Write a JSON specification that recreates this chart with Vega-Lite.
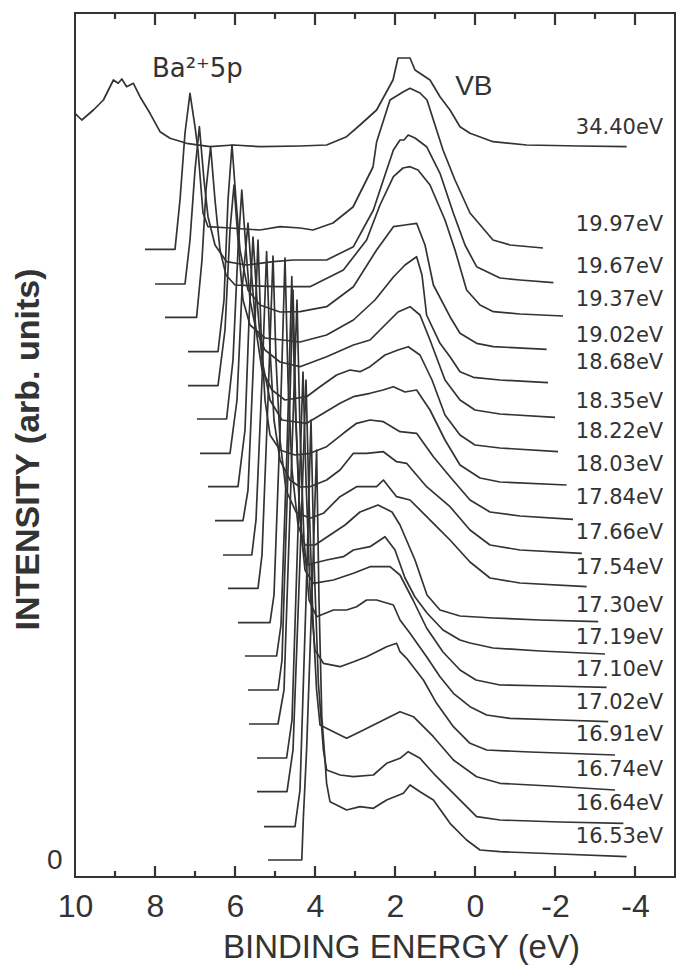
{
"$schema": "https://vega.github.io/schema/vega-lite/v6.json",
"width": 600, "height": 864,
"autosize": "none",
"padding": {"left": 75, "top": 13, "right": 1, "bottom": 88},
"background": "white",
"config": {"view": {"stroke": "#333", "strokeWidth": 2}},
"datasets": {
"tk": [
{"k":"bM8","E":8,"I":-17},{"k":"bM8","E":8,"I":-6},{"k":"bM6","E":6,"I":-17},{"k":"bM6","E":6,"I":-6},{"k":"bM4","E":4,"I":-17},{"k":"bM4","E":4,"I":-6},{"k":"bM2","E":2,"I":-17},{"k":"bM2","E":2,"I":-6},{"k":"bM0","E":0,"I":-17},{"k":"bM0","E":0,"I":-6},{"k":"bMn2","E":-2,"I":-17},{"k":"bMn2","E":-2,"I":-6},{"k":"bMn4","E":-4,"I":-17},{"k":"bMn4","E":-4,"I":-6},
{"k":"bm9","E":9,"I":-17},{"k":"bm9","E":9,"I":-11},{"k":"bm7","E":7,"I":-17},{"k":"bm7","E":7,"I":-11},{"k":"bm5","E":5,"I":-17},{"k":"bm5","E":5,"I":-11},{"k":"bm3","E":3,"I":-17},{"k":"bm3","E":3,"I":-11},{"k":"bm1","E":1,"I":-17},{"k":"bm1","E":1,"I":-11},{"k":"bmn1","E":-1,"I":-17},{"k":"bmn1","E":-1,"I":-11},{"k":"bmn3","E":-3,"I":-17},{"k":"bmn3","E":-3,"I":-11},
{"k":"tM8","E":8,"I":847},{"k":"tM8","E":8,"I":835},{"k":"tM6","E":6,"I":847},{"k":"tM6","E":6,"I":835},{"k":"tM4","E":4,"I":847},{"k":"tM4","E":4,"I":835},{"k":"tM2","E":2,"I":847},{"k":"tM2","E":2,"I":835},{"k":"tM0","E":0,"I":847},{"k":"tM0","E":0,"I":835},{"k":"tMn2","E":-2,"I":847},{"k":"tMn2","E":-2,"I":835},{"k":"tMn4","E":-4,"I":847},{"k":"tMn4","E":-4,"I":835},
{"k":"tm9","E":9,"I":847},{"k":"tm9","E":9,"I":841},{"k":"tm7","E":7,"I":847},{"k":"tm7","E":7,"I":841},{"k":"tm5","E":5,"I":847},{"k":"tm5","E":5,"I":841},{"k":"tm3","E":3,"I":847},{"k":"tm3","E":3,"I":841},{"k":"tm1","E":1,"I":847},{"k":"tm1","E":1,"I":841},{"k":"tmn1","E":-1,"I":847},{"k":"tmn1","E":-1,"I":841},{"k":"tmn3","E":-3,"I":847},{"k":"tmn3","E":-3,"I":841}
],
"curves": [
{"s":"34.40","E":10,"I":746.7},{"s":"34.40","E":9.83,"I":740},{"s":"34.40","E":9.54,"I":750},{"s":"34.40","E":9.29,"I":760},{"s":"34.40","E":9.04,"I":780},{"s":"34.40","E":8.92,"I":776.7},{"s":"34.40","E":8.83,"I":781},{"s":"34.40","E":8.71,"I":773.3},{"s":"34.40","E":8.54,"I":776.7},{"s":"34.40","E":8.375,"I":763.3},{"s":"34.40","E":8.125,"I":746.7},{"s":"34.40","E":7.875,"I":728.3},{"s":"34.40","E":7.625,"I":721.7},{"s":"34.40","E":7.21,"I":716.7},{"s":"34.40","E":6.625,"I":713.3},{"s":"34.40","E":6.04,"I":715},{"s":"34.40","E":5.375,"I":713.3},{"s":"34.40","E":4.375,"I":714},{"s":"34.40","E":3.71,"I":715},{"s":"34.40","E":3.21,"I":723.3},{"s":"34.40","E":2.875,"I":735},{"s":"34.40","E":2.46,"I":750},{"s":"34.40","E":2.05,"I":780},{"s":"34.40","E":1.925,"I":802},{"s":"34.40","E":1.625,"I":802},{"s":"34.40","E":1.5,"I":790},{"s":"34.40","E":1.125,"I":780},{"s":"34.40","E":0.875,"I":763.3},{"s":"34.40","E":0.625,"I":750},{"s":"34.40","E":0.375,"I":733.3},{"s":"34.40","E":0.125,"I":726.7},{"s":"34.40","E":-0.45,"I":718.3},{"s":"34.40","E":-1.29,"I":715},{"s":"34.40","E":-2.625,"I":714},{"s":"34.40","E":-3.79,"I":713.3},
{"s":"19.97","E":8.25,"I":610.7},{"s":"19.97","E":7.5,"I":610.7},{"s":"19.97","E":7.375,"I":660},{"s":"19.97","E":7.25,"I":727},{"s":"19.97","E":7.125,"I":766.7},{"s":"19.97","E":7.0,"I":733.3},{"s":"19.97","E":6.925,"I":710},{"s":"19.97","E":6.8,"I":647},{"s":"19.97","E":6.675,"I":633.3},{"s":"19.97","E":6.125,"I":632},{"s":"19.97","E":5.375,"I":630},{"s":"19.97","E":4.875,"I":633.3},{"s":"19.97","E":4.375,"I":632},{"s":"19.97","E":4.05,"I":630},{"s":"19.97","E":3.55,"I":637},{"s":"19.97","E":3.05,"I":653},{"s":"19.97","E":2.55,"I":693},{"s":"19.97","E":2.46,"I":718},{"s":"19.97","E":2.125,"I":760},{"s":"19.97","E":1.8,"I":768},{"s":"19.97","E":1.625,"I":771.7},{"s":"19.97","E":1.375,"I":767},{"s":"19.97","E":1.2,"I":760},{"s":"19.97","E":0.8,"I":710},{"s":"19.97","E":0.5,"I":680},{"s":"19.97","E":0.125,"I":647},{"s":"19.97","E":-0.45,"I":620},{"s":"19.97","E":-0.875,"I":615},{"s":"19.97","E":-1.7,"I":612},
{"s":"19.67","E":8.0,"I":576},{"s":"19.67","E":7.25,"I":576},{"s":"19.67","E":7.125,"I":620},{"s":"19.67","E":7.0,"I":690},{"s":"19.67","E":6.89,"I":733.3},{"s":"19.67","E":6.775,"I":680},{"s":"19.67","E":6.675,"I":643.3},{"s":"19.67","E":6.5,"I":615},{"s":"19.67","E":6.21,"I":598.3},{"s":"19.67","E":5.71,"I":595},{"s":"19.67","E":5.04,"I":598.3},{"s":"19.67","E":4.54,"I":600},{"s":"19.67","E":3.71,"I":600},{"s":"19.67","E":3.04,"I":613.3},{"s":"19.67","E":2.54,"I":650},{"s":"19.67","E":2.25,"I":685},{"s":"19.67","E":2.04,"I":710},{"s":"19.67","E":1.875,"I":720},{"s":"19.67","E":1.775,"I":720},{"s":"19.67","E":1.67,"I":725},{"s":"19.67","E":1.5,"I":722},{"s":"19.67","E":1.21,"I":713.3},{"s":"19.67","E":0.875,"I":686.7},{"s":"19.67","E":0.54,"I":646.7},{"s":"19.67","E":0.25,"I":615},{"s":"19.67","E":-0.04,"I":593.3},{"s":"19.67","E":-0.625,"I":582},{"s":"19.67","E":-1.125,"I":580},{"s":"19.67","E":-1.96,"I":577.3},
{"s":"19.37","E":7.75,"I":542.7},{"s":"19.37","E":6.96,"I":542.7},{"s":"19.37","E":6.825,"I":600},{"s":"19.37","E":6.725,"I":670},{"s":"19.37","E":6.61,"I":713.3},{"s":"19.37","E":6.5,"I":660},{"s":"19.37","E":6.375,"I":610},{"s":"19.37","E":6.225,"I":585},{"s":"19.37","E":6.0,"I":575},{"s":"19.37","E":4.96,"I":573.3},{"s":"19.37","E":4.125,"I":573.3},{"s":"19.37","E":3.29,"I":590},{"s":"19.37","E":2.71,"I":620},{"s":"19.37","E":2.375,"I":655},{"s":"19.37","E":2.04,"I":683.3},{"s":"19.37","E":1.8,"I":692},{"s":"19.37","E":1.625,"I":693.3},{"s":"19.37","E":1.425,"I":690},{"s":"19.37","E":1.125,"I":675},{"s":"19.37","E":0.75,"I":640},{"s":"19.37","E":0.5,"I":610},{"s":"19.37","E":0.21,"I":570},{"s":"19.37","E":-0.125,"I":555},{"s":"19.37","E":-0.46,"I":548.3},{"s":"19.37","E":-1.125,"I":546},{"s":"19.37","E":-2.2,"I":544},
{"s":"19.02","E":7.175,"I":508.3},{"s":"19.02","E":6.425,"I":508.3},{"s":"19.02","E":6.275,"I":560},{"s":"19.02","E":6.175,"I":660},{"s":"19.02","E":6.075,"I":715},{"s":"19.02","E":5.975,"I":660},{"s":"19.02","E":5.875,"I":610},{"s":"19.02","E":5.675,"I":570},{"s":"19.02","E":5.375,"I":555},{"s":"19.02","E":4.875,"I":548},{"s":"19.02","E":4.375,"I":548.3},{"s":"19.02","E":3.71,"I":553.3},{"s":"19.02","E":3.04,"I":573.3},{"s":"19.02","E":2.46,"I":610},{"s":"19.02","E":2.04,"I":633.3},{"s":"19.02","E":1.75,"I":635},{"s":"19.02","E":1.46,"I":636.7},{"s":"19.02","E":1.25,"I":615},{"s":"19.02","E":1.04,"I":575},{"s":"19.02","E":0.625,"I":543.3},{"s":"19.02","E":0.375,"I":526.7},{"s":"19.02","E":-0.04,"I":516.7},{"s":"19.02","E":-0.46,"I":513.3},{"s":"19.02","E":-1.79,"I":510.7},
{"s":"18.68","E":7.175,"I":474.3},{"s":"18.68","E":6.425,"I":474.3},{"s":"18.68","E":6.25,"I":530},{"s":"18.68","E":6.125,"I":630},{"s":"18.68","E":6.025,"I":675},{"s":"18.68","E":5.925,"I":620},{"s":"18.68","E":5.8,"I":560},{"s":"18.68","E":5.625,"I":535},{"s":"18.68","E":5.25,"I":522},{"s":"18.68","E":4.375,"I":518},{"s":"18.68","E":3.71,"I":525},{"s":"18.68","E":3.04,"I":540},{"s":"18.68","E":2.5,"I":560},{"s":"18.68","E":2.04,"I":583},{"s":"18.68","E":1.75,"I":595},{"s":"18.68","E":1.46,"I":603.3},{"s":"18.68","E":1.325,"I":585},{"s":"18.68","E":1.21,"I":545},{"s":"18.68","E":0.875,"I":516.7},{"s":"18.68","E":0.625,"I":503.3},{"s":"18.68","E":0.375,"I":488.3},{"s":"18.68","E":0.04,"I":482.7},{"s":"18.68","E":-0.625,"I":480},{"s":"18.68","E":-1.825,"I":477.3},
{"s":"18.35","E":6.95,"I":441},{"s":"18.35","E":6.21,"I":441},{"s":"18.35","E":6.05,"I":500},{"s":"18.35","E":5.925,"I":610},{"s":"18.35","E":5.83,"I":670},{"s":"18.35","E":5.725,"I":610},{"s":"18.35","E":5.625,"I":560},{"s":"18.35","E":5.475,"I":530},{"s":"18.35","E":5.25,"I":510},{"s":"18.35","E":4.875,"I":498},{"s":"18.35","E":4.375,"I":493.3},{"s":"18.35","E":3.71,"I":503.3},{"s":"18.35","E":3.04,"I":515},{"s":"18.35","E":2.625,"I":520},{"s":"18.35","E":2.25,"I":535},{"s":"18.35","E":1.925,"I":548},{"s":"18.35","E":1.625,"I":553.3},{"s":"18.35","E":1.375,"I":545},{"s":"18.35","E":1.125,"I":520},{"s":"18.35","E":0.75,"I":480},{"s":"18.35","E":0.375,"I":460},{"s":"18.35","E":0,"I":450},{"s":"18.35","E":-0.625,"I":446},{"s":"18.35","E":-2.0,"I":442.7},
{"s":"18.22","E":6.875,"I":406.7},{"s":"18.22","E":6.125,"I":406.7},{"s":"18.22","E":5.95,"I":460},{"s":"18.22","E":5.825,"I":570},{"s":"18.22","E":5.675,"I":637},{"s":"18.22","E":5.575,"I":580},{"s":"18.22","E":5.475,"I":530},{"s":"18.22","E":5.325,"I":490},{"s":"18.22","E":5.075,"I":470},{"s":"18.22","E":4.75,"I":460},{"s":"18.22","E":4.21,"I":463.3},{"s":"18.22","E":3.875,"I":473.3},{"s":"18.22","E":3.46,"I":485},{"s":"18.22","E":3.125,"I":490},{"s":"18.22","E":2.875,"I":488.3},{"s":"18.22","E":2.625,"I":493.3},{"s":"18.22","E":2.25,"I":505},{"s":"18.22","E":1.925,"I":510},{"s":"18.22","E":1.67,"I":513.3},{"s":"18.22","E":1.375,"I":505},{"s":"18.22","E":1.075,"I":480},{"s":"18.22","E":0.75,"I":445},{"s":"18.22","E":0.375,"I":425},{"s":"18.22","E":0,"I":415},{"s":"18.22","E":-0.625,"I":412},{"s":"18.22","E":-2.075,"I":408.3},
{"s":"18.03","E":6.675,"I":373.3},{"s":"18.03","E":5.925,"I":373.3},{"s":"18.03","E":5.75,"I":430},{"s":"18.03","E":5.65,"I":540},{"s":"18.03","E":5.55,"I":623},{"s":"18.03","E":5.45,"I":560},{"s":"18.03","E":5.325,"I":500},{"s":"18.03","E":5.125,"I":460},{"s":"18.03","E":4.825,"I":440},{"s":"18.03","E":4.21,"I":436.7},{"s":"18.03","E":3.79,"I":446.7},{"s":"18.03","E":3.375,"I":456.7},{"s":"18.03","E":3.04,"I":463.3},{"s":"18.03","E":2.625,"I":466.7},{"s":"18.03","E":2.3,"I":470},{"s":"18.03","E":2.04,"I":473.3},{"s":"18.03","E":1.75,"I":468},{"s":"18.03","E":1.46,"I":470},{"s":"18.03","E":1.125,"I":450},{"s":"18.03","E":0.75,"I":420},{"s":"18.03","E":0.375,"I":395},{"s":"18.03","E":-0.125,"I":382},{"s":"18.03","E":-0.625,"I":378},{"s":"18.03","E":-2.29,"I":375},
{"s":"17.84","E":6.5,"I":339.3},{"s":"17.84","E":5.8,"I":339.3},{"s":"17.84","E":5.675,"I":370},{"s":"17.84","E":5.525,"I":510},{"s":"17.84","E":5.425,"I":620},{"s":"17.84","E":5.35,"I":530},{"s":"17.84","E":5.25,"I":460},{"s":"17.84","E":5.125,"I":425},{"s":"17.84","E":4.875,"I":410},{"s":"17.84","E":4.5,"I":405},{"s":"17.84","E":4.125,"I":406.7},{"s":"17.84","E":3.71,"I":413.3},{"s":"17.84","E":3.29,"I":426.7},{"s":"17.84","E":2.96,"I":436.7},{"s":"17.84","E":2.625,"I":440},{"s":"17.84","E":2.29,"I":438.3},{"s":"17.84","E":1.875,"I":428.3},{"s":"17.84","E":1.46,"I":426.7},{"s":"17.84","E":1.04,"I":403.3},{"s":"17.84","E":0.625,"I":383.3},{"s":"17.84","E":0.125,"I":360},{"s":"17.84","E":-0.375,"I":348},{"s":"17.84","E":-1.125,"I":344},{"s":"17.84","E":-2.45,"I":340.7},
{"s":"17.66","E":6.3,"I":305},{"s":"17.66","E":5.58,"I":305},{"s":"17.66","E":5.475,"I":340},{"s":"17.66","E":5.325,"I":480},{"s":"17.66","E":5.21,"I":608.3},{"s":"17.66","E":5.125,"I":510},{"s":"17.66","E":5.025,"I":440},{"s":"17.66","E":4.875,"I":400},{"s":"17.66","E":4.625,"I":380},{"s":"17.66","E":4.375,"I":373},{"s":"17.66","E":4.125,"I":373.3},{"s":"17.66","E":3.71,"I":380},{"s":"17.66","E":3.375,"I":390},{"s":"17.66","E":3.04,"I":406.7},{"s":"17.66","E":2.71,"I":406.7},{"s":"17.66","E":2.29,"I":408.3},{"s":"17.66","E":1.96,"I":398.3},{"s":"17.66","E":1.71,"I":396.7},{"s":"17.66","E":1.21,"I":373.3},{"s":"17.66","E":0.625,"I":353.3},{"s":"17.66","E":0.125,"I":330},{"s":"17.66","E":-0.375,"I":315},{"s":"17.66","E":-1.125,"I":310},{"s":"17.66","E":-2.67,"I":306.7},
{"s":"17.54","E":6.175,"I":271.7},{"s":"17.54","E":5.425,"I":271.7},{"s":"17.54","E":5.325,"I":305},{"s":"17.54","E":5.175,"I":460},{"s":"17.54","E":5.05,"I":604},{"s":"17.54","E":4.975,"I":500},{"s":"17.54","E":4.875,"I":420},{"s":"17.54","E":4.725,"I":370},{"s":"17.54","E":4.475,"I":348},{"s":"17.54","E":4.125,"I":341.7},{"s":"17.54","E":3.79,"I":346.7},{"s":"17.54","E":3.375,"I":363.3},{"s":"17.54","E":2.96,"I":373.3},{"s":"17.54","E":2.46,"I":373.3},{"s":"17.54","E":2.29,"I":380},{"s":"17.54","E":1.96,"I":363.3},{"s":"17.54","E":1.625,"I":360},{"s":"17.54","E":1.04,"I":336.7},{"s":"17.54","E":0.625,"I":320},{"s":"17.54","E":0.125,"I":298},{"s":"17.54","E":-0.375,"I":282},{"s":"17.54","E":-1.125,"I":277},{"s":"17.54","E":-2.79,"I":273.3},
{"s":"17.30","E":5.925,"I":237.3},{"s":"17.30","E":5.125,"I":237.3},{"s":"17.30","E":5.025,"I":265},{"s":"17.30","E":4.875,"I":430},{"s":"17.30","E":4.75,"I":602},{"s":"17.30","E":4.675,"I":480},{"s":"17.30","E":4.575,"I":390},{"s":"17.30","E":4.425,"I":335},{"s":"17.30","E":4.25,"I":315},{"s":"17.30","E":4.0,"I":315},{"s":"17.30","E":3.625,"I":325},{"s":"17.30","E":3.25,"I":335},{"s":"17.30","E":2.875,"I":348},{"s":"17.30","E":2.425,"I":355},{"s":"17.30","E":2.075,"I":348},{"s":"17.30","E":1.875,"I":335},{"s":"17.30","E":1.5,"I":300},{"s":"17.30","E":1.2,"I":265},{"s":"17.30","E":0.875,"I":250},{"s":"17.30","E":0.375,"I":244},{"s":"17.30","E":-0.45,"I":242},{"s":"17.30","E":-1.625,"I":240},{"s":"17.30","E":-3.08,"I":238.3},
{"s":"17.19","E":5.75,"I":204},{"s":"17.19","E":4.96,"I":204},{"s":"17.19","E":4.85,"I":235},{"s":"17.19","E":4.7,"I":410},{"s":"17.19","E":4.58,"I":583.3},{"s":"17.19","E":4.5,"I":460},{"s":"17.19","E":4.4,"I":360},{"s":"17.19","E":4.3,"I":310},{"s":"17.19","E":4.175,"I":295},{"s":"17.19","E":4.04,"I":296.7},{"s":"17.19","E":3.71,"I":300},{"s":"17.19","E":3.29,"I":303.3},{"s":"17.19","E":3.04,"I":310},{"s":"17.19","E":2.625,"I":313.3},{"s":"17.19","E":2.25,"I":323.3},{"s":"17.19","E":2.0,"I":310},{"s":"17.19","E":1.75,"I":282},{"s":"17.19","E":1.5,"I":263},{"s":"17.19","E":1.2,"I":247},{"s":"17.19","E":0.8,"I":230},{"s":"17.19","E":0.375,"I":220},{"s":"17.19","E":0.125,"I":217},{"s":"17.19","E":-0.45,"I":212},{"s":"17.19","E":-1.625,"I":209},{"s":"17.19","E":-3.25,"I":206},
{"s":"17.10","E":5.675,"I":170},{"s":"17.10","E":4.925,"I":170},{"s":"17.10","E":4.825,"I":200},{"s":"17.10","E":4.675,"I":390},{"s":"17.10","E":4.55,"I":570},{"s":"17.10","E":4.475,"I":440},{"s":"17.10","E":4.375,"I":340},{"s":"17.10","E":4.25,"I":290},{"s":"17.10","E":4.04,"I":276.7},{"s":"17.10","E":3.54,"I":280},{"s":"17.10","E":3.04,"I":286.7},{"s":"17.10","E":2.625,"I":293.3},{"s":"17.10","E":2.125,"I":293.3},{"s":"17.10","E":1.875,"I":285},{"s":"17.10","E":1.55,"I":260},{"s":"17.10","E":1.21,"I":232},{"s":"17.10","E":0.8,"I":208},{"s":"17.10","E":0.375,"I":190},{"s":"17.10","E":-0.025,"I":180},{"s":"17.10","E":-0.625,"I":175},{"s":"17.10","E":-1.875,"I":174},{"s":"17.10","E":-3.29,"I":172.7},
{"s":"17.02","E":5.65,"I":136},{"s":"17.02","E":4.925,"I":136},{"s":"17.02","E":4.775,"I":170},{"s":"17.02","E":4.6,"I":380},{"s":"17.02","E":4.45,"I":560},{"s":"17.02","E":4.375,"I":430},{"s":"17.02","E":4.275,"I":320},{"s":"17.02","E":4.15,"I":260},{"s":"17.02","E":3.96,"I":243.3},{"s":"17.02","E":3.54,"I":250},{"s":"17.02","E":3.21,"I":250},{"s":"17.02","E":2.96,"I":253.3},{"s":"17.02","E":2.71,"I":260},{"s":"17.02","E":2.46,"I":260},{"s":"17.02","E":2.04,"I":255},{"s":"17.02","E":1.875,"I":240},{"s":"17.02","E":1.625,"I":226.7},{"s":"17.02","E":1.21,"I":203.3},{"s":"17.02","E":0.875,"I":183.3},{"s":"17.02","E":0.54,"I":166.7},{"s":"17.02","E":0.125,"I":153.3},{"s":"17.02","E":-0.29,"I":145},{"s":"17.02","E":-0.875,"I":141.7},{"s":"17.02","E":-2.125,"I":140},{"s":"17.02","E":-3.33,"I":138.3},
{"s":"16.91","E":5.45,"I":102},{"s":"16.91","E":4.71,"I":102},{"s":"16.91","E":4.575,"I":140},{"s":"16.91","E":4.425,"I":330},{"s":"16.91","E":4.3,"I":488},{"s":"16.91","E":4.225,"I":380},{"s":"16.91","E":4.125,"I":270},{"s":"16.91","E":4.0,"I":210},{"s":"16.91","E":3.79,"I":196.7},{"s":"16.91","E":3.375,"I":193.3},{"s":"16.91","E":3.05,"I":198},{"s":"16.91","E":2.71,"I":203.3},{"s":"16.91","E":2.21,"I":213.3},{"s":"16.91","E":1.96,"I":216.7},{"s":"16.91","E":1.875,"I":208.3},{"s":"16.91","E":1.71,"I":201.7},{"s":"16.91","E":1.29,"I":180},{"s":"16.91","E":0.96,"I":156.7},{"s":"16.91","E":0.54,"I":133.3},{"s":"16.91","E":0.125,"I":116.7},{"s":"16.91","E":-0.29,"I":110},{"s":"16.91","E":-1.375,"I":108},{"s":"16.91","E":-3.5,"I":105},
{"s":"16.74","E":5.45,"I":68.3},{"s":"16.74","E":4.7,"I":68.3},{"s":"16.74","E":4.55,"I":110},{"s":"16.74","E":4.375,"I":300},{"s":"16.74","E":4.225,"I":480},{"s":"16.74","E":4.15,"I":360},{"s":"16.74","E":4.05,"I":240},{"s":"16.74","E":3.96,"I":170},{"s":"16.74","E":3.875,"I":135},{"s":"16.74","E":3.54,"I":128.3},{"s":"16.74","E":3.21,"I":121.7},{"s":"16.74","E":2.875,"I":128.3},{"s":"16.74","E":2.375,"I":138.3},{"s":"16.74","E":1.875,"I":148.3},{"s":"16.74","E":1.54,"I":143.3},{"s":"16.74","E":1.04,"I":123.3},{"s":"16.74","E":0.54,"I":100},{"s":"16.74","E":-0.04,"I":83.3},{"s":"16.74","E":-0.625,"I":76.7},{"s":"16.74","E":-1.875,"I":74},{"s":"16.74","E":-3.5,"I":70},
{"s":"16.64","E":5.275,"I":33.3},{"s":"16.64","E":4.5,"I":33.3},{"s":"16.64","E":4.375,"I":70},{"s":"16.64","E":4.225,"I":260},{"s":"16.64","E":4.1,"I":440},{"s":"16.64","E":4.025,"I":300},{"s":"16.64","E":3.915,"I":176.7},{"s":"16.64","E":3.79,"I":110},{"s":"16.64","E":3.71,"I":90},{"s":"16.64","E":3.375,"I":85},{"s":"16.64","E":3.04,"I":83.3},{"s":"16.64","E":2.54,"I":85},{"s":"16.64","E":2.21,"I":96.7},{"s":"16.64","E":1.875,"I":101.7},{"s":"16.64","E":1.67,"I":108.3},{"s":"16.64","E":1.375,"I":101.7},{"s":"16.64","E":1.04,"I":86.7},{"s":"16.64","E":0.54,"I":66.7},{"s":"16.64","E":-0.04,"I":43.3},{"s":"16.64","E":-0.625,"I":40},{"s":"16.64","E":-2.125,"I":38},{"s":"16.64","E":-3.71,"I":36.7},
{"s":"16.53","E":5.175,"I":0},{"s":"16.53","E":4.33,"I":0},{"s":"16.53","E":4.29,"I":43.3},{"s":"16.53","E":4.21,"I":110},{"s":"16.53","E":4.08,"I":260},{"s":"16.53","E":3.96,"I":410},{"s":"16.53","E":3.9,"I":260},{"s":"16.53","E":3.83,"I":143.3},{"s":"16.53","E":3.75,"I":100},{"s":"16.53","E":3.71,"I":76.7},{"s":"16.53","E":3.625,"I":58.3},{"s":"16.53","E":3.21,"I":50},{"s":"16.53","E":2.875,"I":53.3},{"s":"16.53","E":2.54,"I":51.7},{"s":"16.53","E":2.21,"I":60},{"s":"16.53","E":1.79,"I":66.7},{"s":"16.53","E":1.625,"I":75},{"s":"16.53","E":1.375,"I":68.3},{"s":"16.53","E":1.04,"I":60},{"s":"16.53","E":0.625,"I":36.7},{"s":"16.53","E":0.21,"I":20},{"s":"16.53","E":-0.125,"I":10},{"s":"16.53","E":-0.625,"I":8.3},{"s":"16.53","E":-2.125,"I":6},{"s":"16.53","E":-3.79,"I":3.3}
],
"labels": [
{"t":"34.40eV","I":731.7},{"t":"19.97eV","I":635},{"t":"19.67eV","I":593.3},{"t":"19.37eV","I":560},{"t":"19.02eV","I":524},{"t":"18.68eV","I":496.7},{"t":"18.35eV","I":458.3},{"t":"18.22eV","I":428.3},{"t":"18.03eV","I":395},{"t":"17.84eV","I":361.7},{"t":"17.66eV","I":327.3},{"t":"17.54eV","I":291.7},{"t":"17.30eV","I":254},{"t":"17.19eV","I":221.7},{"t":"17.10eV","I":190},{"t":"17.02eV","I":156.7},{"t":"16.91eV","I":125},{"t":"16.74eV","I":90},{"t":"16.64eV","I":56},{"t":"16.53eV","I":23.3}
]
},
"layer": [
{
"data": {"name": "curves"},
"mark": {"type": "line", "color": "#333333", "strokeWidth": 1.7, "strokeJoin": "round"},
"encoding": {
"x": {"field": "E", "type": "quantitative",
 "scale": {"domain": [-5, 10], "reverse": true, "nice": false, "zero": false},
 "axis": {"orient": "bottom", "values": [10,8,6,4,2,0,-2,-4], "ticks": false,
  "labelExpr": "toString(datum.value)", "domain": false, "grid": false,
  "labelFont": "Liberation Sans", "labelFontSize": 32, "labelColor": "#333", "labelPadding": 14,
  "labelFlush": false, "labelOverlap": false, "labelBound": false,
  "title": "BINDING ENERGY (eV)", "titleFont": "Liberation Sans", "titleFontSize": 33, "titleFontWeight": "normal",
  "titleColor": "#333", "titleX": 326, "titleY": 80, "titleBaseline": "alphabetic", "titleAlign": "center"}},
"y": {"field": "I", "type": "quantitative",
 "scale": {"domain": [-17, 847], "nice": false, "zero": false},
 "axis": {"orient": "left", "values": [0], "ticks": false, "domain": false, "grid": false,
  "labelFont": "Liberation Sans", "labelFontSize": 28, "labelColor": "#333", "labelPadding": 13,
  "title": "INTENSITY (arb. units)", "titleFont": "Liberation Sans", "titleFontSize": 34, "titleFontWeight": "bold",
  "titleColor": "#333", "titleX": -47, "titleY": 436, "titleAngle": -90, "titleAlign": "center", "titleBaseline": "middle"}},
"detail": {"field": "s"}
}
},
{
"data": {"name": "tk"},
"mark": {"type": "line", "color": "#333333", "strokeWidth": 2.2, "strokeCap": "butt"},
"encoding": {
"x": {"field": "E", "type": "quantitative", "axis": null},
"y": {"field": "I", "type": "quantitative", "axis": null},
"detail": {"field": "k"},
"order": {"field": "I"}
}
},
{
"data": {"name": "labels"},
"mark": {"type": "text", "align": "center", "baseline": "middle", "font": "DejaVu Sans", "fontSize": 21, "color": "#333"},
"encoding": {
"x": {"datum": -3.6125, "type": "quantitative", "axis": null},
"y": {"field": "I", "type": "quantitative", "axis": null},
"text": {"field": "t"}
}
},
{
"data": {"values": [{}]},
"mark": {"type": "text", "align": "center", "baseline": "middle", "font": "DejaVu Sans", "fontSize": 26, "color": "#333"},
"encoding": {
"x": {"datum": 6.94, "type": "quantitative", "axis": null},
"y": {"datum": 791, "type": "quantitative", "axis": null},
"text": {"value": "Ba²⁺5p"}
}
},
{
"data": {"values": [{}]},
"mark": {"type": "text", "align": "center", "baseline": "middle", "font": "Liberation Sans", "fontSize": 28, "color": "#333"},
"encoding": {
"x": {"datum": 0.03, "type": "quantitative", "axis": null},
"y": {"datum": 773, "type": "quantitative", "axis": null},
"text": {"value": "VB"}
}
}
],
"resolve": {"scale": {"x": "shared", "y": "shared"}, "axis": {"x": "independent", "y": "independent"}}
}
